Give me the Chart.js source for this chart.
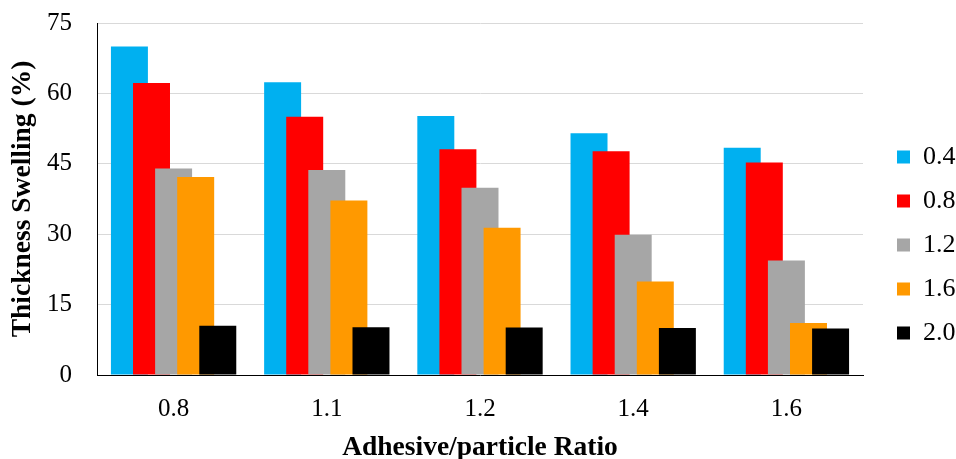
<!DOCTYPE html>
<html>
<head>
<meta charset="utf-8">
<script src="https://cdn.jsdelivr.net/npm/chart.js@4/dist/chart.umd.min.js"></script>
<style>
  html, body { margin: 0; padding: 0; background: #fff; }
  #wrap { width: 956px; height: 459px; }
</style>
</head>
<body>
<div id="wrap"><canvas id="myChart" width="956" height="459"></canvas></div>
<script>
// categories (adhesive/particle ratio) and the five series shown in the legend
const ratios = ['0.8', '1.1', '1.2', '1.4', '1.6'];
const seriesNames = ['0.4', '0.8', '1.2', '1.6', '2.0'];
const s04 = [70.0, 62.4, 55.2, 51.5, 48.4];
const s08 = [62.2, 55.0, 48.1, 47.7, 45.3];
const s12 = [44.0, 43.7, 39.9, 29.9, 24.4];
const s16 = [42.2, 37.2, 31.4, 19.9, 11.1];
const s20 = [10.5, 10.2, 10.1, 10.0, 9.9];
const yTicks = [0, 15, 30, 45, 60, 75];

const colors = ['#00B0F0', '#FF0000', '#A6A6A6', '#FF9900', '#000000'];
const serif = "'Times New Roman', 'Liberation Serif', serif";

// bars overlap like in Excel, later series must sit on top
const drawOrder = {
  id: 'drawOrder',
  afterLayout(chart) {
    // nudge legend to the spot Excel puts it
    const lg = chart.legend;
    lg.left += 16; lg.right += 16;
    lg.top += 15.5; lg.bottom += 15.5;
  },
  beforeDatasetsDraw(chart) {
    const ctx = chart.ctx, a = chart.chartArea;
    ctx.save();
    ctx.beginPath();
    ctx.rect(a.left, a.top, a.right - a.left, a.bottom - a.top);
    ctx.clip();
    chart.getSortedVisibleDatasetMetas().forEach(m => m.controller.draw());
    ctx.restore();
    return false;
  }
};

const ctx = document.getElementById('myChart');
const myChart = new Chart(ctx, {
  type: 'bar',
  data: {
    labels: ratios,
    datasets: [s04, s08, s12, s16, s20].map((d, i) => ({
      label: seriesNames[i],
      data: d,
      backgroundColor: colors[i],
      borderWidth: 0,
      categoryPercentage: 0.721,
      barPercentage: 1.674
    }))
  },
  options: {
    responsive: false,
    animation: false,
    layout: { padding: { top: 0, left: 4, right: 6.5, bottom: 0 } },
    plugins: {
      tooltip: { enabled: false },
      legend: {
        position: 'right',
        align: 'center',
        labels: {
          boxWidth: 13,
          boxHeight: 13,
          padding: 18,
          color: '#000',
          font: { family: serif, size: 26 }
        }
      }
    },
    scales: {
      x: {
        z: 1,
        grid: {
          drawTicks: false,
          color: c => c.index === ratios.length ? '#D9D9D9' : 'rgba(0,0,0,0)'
        },
        border: { color: '#000', width: 1 },
        ticks: { color: '#000', padding: 19, font: { family: serif, size: 25 } },
        title: {
          display: true,
          text: 'Adhesive/particle Ratio',
          color: '#000',
          padding: { top: -6, bottom: 0 },
          font: { family: serif, size: 27.5, weight: 'bold', lineHeight: 0.8 }
        }
      },
      y: {
        min: 0,
        max: 75,
        afterBuildTicks: s => { s.ticks = yTicks.map(v => ({ value: v })); },
        grid: { drawTicks: true, tickLength: 17, tickColor: 'rgba(0,0,0,0)', color: '#D9D9D9' },
        border: { color: '#000', width: 1 },
        ticks: { color: '#000', padding: 8, font: { family: serif, size: 25 } },
        title: {
          display: true,
          text: 'Thickness Swelling (%)',
          color: '#000',
          padding: { top: 2.5, bottom: -0.5 },
          font: { family: serif, size: 27.5, weight: 'bold' }
        }
      }
    }
  },
  plugins: [drawOrder]
});
</script>
</body>
</html>
